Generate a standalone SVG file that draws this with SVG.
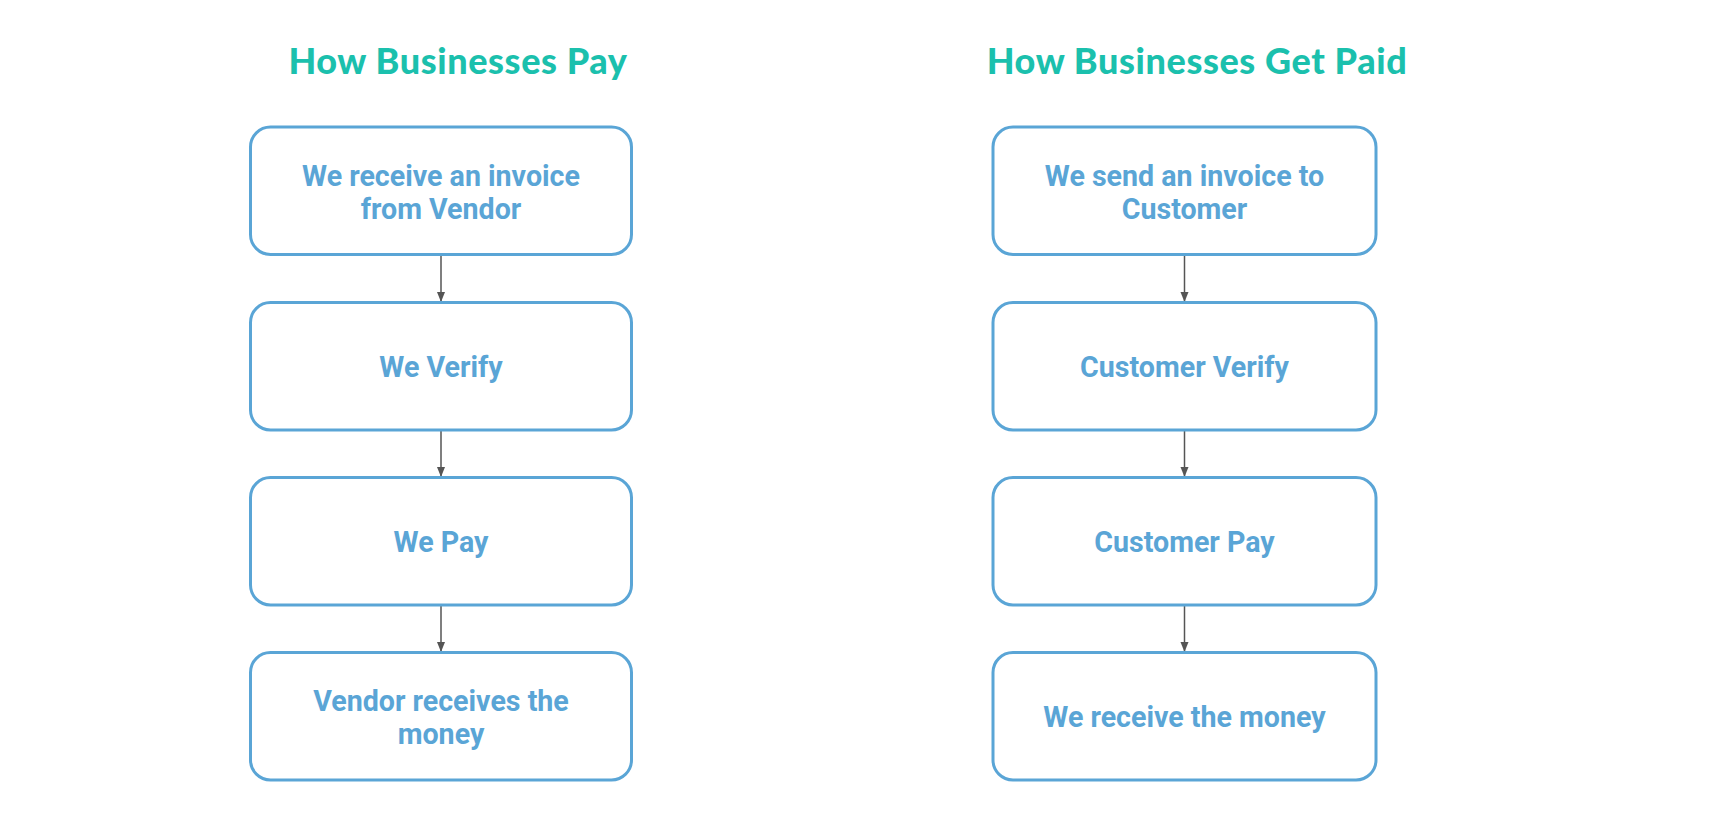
<svg xmlns="http://www.w3.org/2000/svg" width="1724" height="822" viewBox="0 0 1724 822">
<style>
.title{font-family:Lato,"Open Sans",sans-serif;font-weight:900;font-size:36px;letter-spacing:0.6px;fill:#1bc0ad;text-anchor:middle}
.box{fill:#fff;stroke:#5aa5d6;stroke-width:3}
.lbl{font-family:Roboto,sans-serif;font-weight:700;font-size:28.6px;fill:#5aa5d6;text-anchor:middle}
.conn{stroke:#555;stroke-width:1.5;fill:none}
</style>
<defs>
<marker id="ah" viewBox="0 0 10 10" refX="10" refY="5" markerWidth="10" markerHeight="10" markerUnits="userSpaceOnUse" orient="auto">
<path d="M0,1 L10,5 L0,9 Z" fill="#555"/>
</marker>
</defs>
<rect width="1724" height="822" fill="#fff"/>
<text class="title" x="458" y="74">How Businesses Pay</text>
<text class="title" x="1197" y="74">How Businesses Get Paid</text>
<g id="connectors">
<line class="conn" x1="441" y1="255" x2="441" y2="302" marker-end="url(#ah)"/>
<line class="conn" x1="441" y1="430" x2="441" y2="477" marker-end="url(#ah)"/>
<line class="conn" x1="441" y1="605" x2="441" y2="652" marker-end="url(#ah)"/>
<line class="conn" x1="1184.5" y1="255" x2="1184.5" y2="302" marker-end="url(#ah)"/>
<line class="conn" x1="1184.5" y1="430" x2="1184.5" y2="477" marker-end="url(#ah)"/>
<line class="conn" x1="1184.5" y1="605" x2="1184.5" y2="652" marker-end="url(#ah)"/>
</g>
<g id="l1"><rect class="box" x="250.5" y="127" width="381" height="127.5" rx="20"/><text class="lbl" x="441" y="185.5">We receive an invoice</text><text class="lbl" x="441" y="218.5">from Vendor</text></g>
<g id="l2"><rect class="box" x="250.5" y="302.5" width="381" height="127.5" rx="20"/><text class="lbl" x="441" y="377">We Verify</text></g>
<g id="l3"><rect class="box" x="250.5" y="477.5" width="381" height="127.5" rx="20"/><text class="lbl" x="441" y="552">We Pay</text></g>
<g id="l4"><rect class="box" x="250.5" y="652.5" width="381" height="127.5" rx="20"/><text class="lbl" x="441" y="710.5">Vendor receives the</text><text class="lbl" x="441" y="743.5">money</text></g>
<g id="r1"><rect class="box" x="993" y="127" width="383" height="127.5" rx="20"/><text class="lbl" x="1184.5" y="185.5">We send an invoice to</text><text class="lbl" x="1184.5" y="218.5">Customer</text></g>
<g id="r2"><rect class="box" x="993" y="302.5" width="383" height="127.5" rx="20"/><text class="lbl" x="1184.5" y="377">Customer Verify</text></g>
<g id="r3"><rect class="box" x="993" y="477.5" width="383" height="127.5" rx="20"/><text class="lbl" x="1184.5" y="552">Customer Pay</text></g>
<g id="r4"><rect class="box" x="993" y="652.5" width="383" height="127.5" rx="20"/><text class="lbl" x="1184.5" y="727">We receive the money</text></g>
</svg>
